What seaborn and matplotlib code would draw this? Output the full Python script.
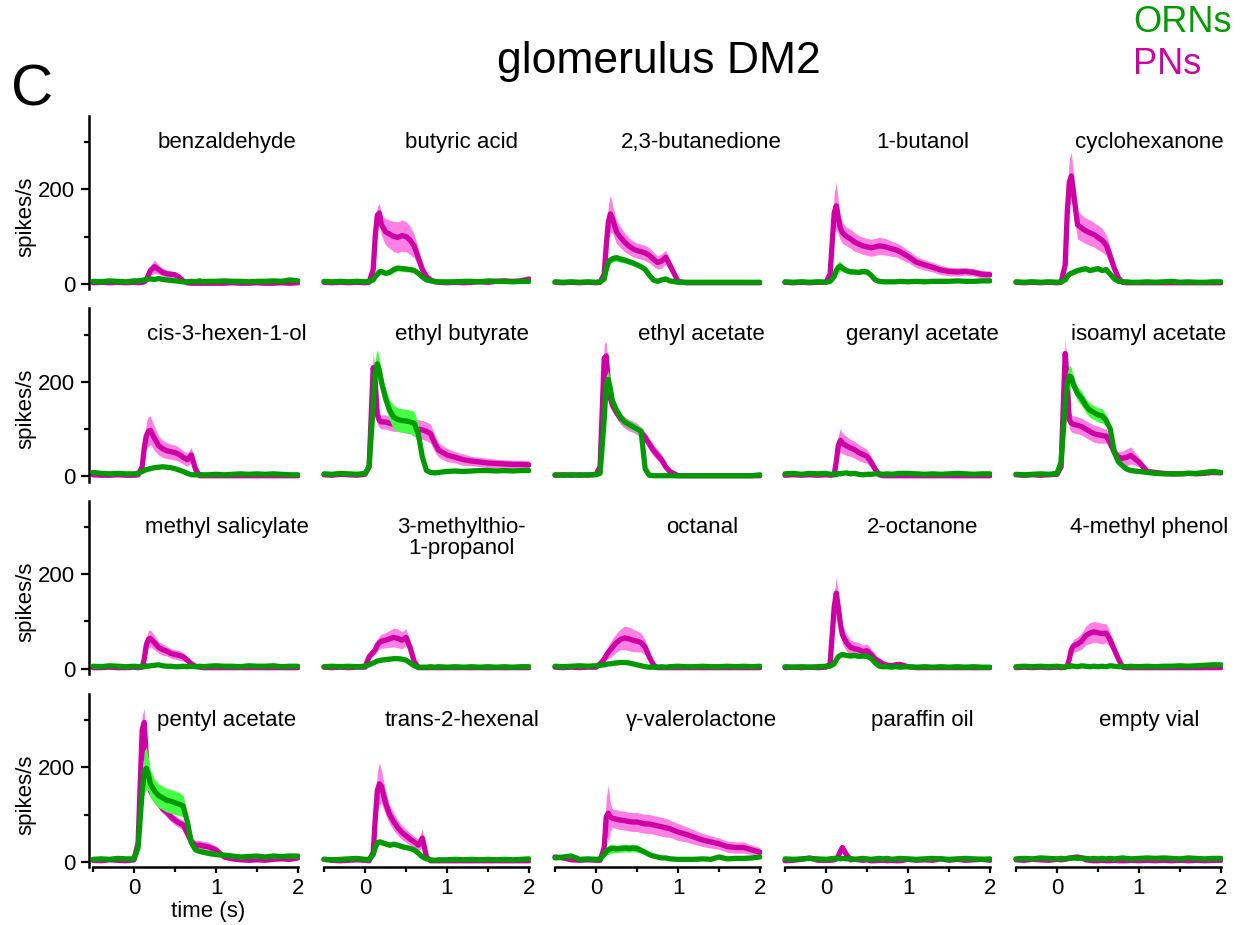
import numpy as np
import pandas as pd
import matplotlib
matplotlib.use("Agg")
import matplotlib.pyplot as plt
import seaborn as sns
from matplotlib.ticker import FixedLocator

# ---------------- data ----------------
time_s = [-0.5, -0.4, -0.3, -0.2, -0.1, 0.0,
          0.05, 0.1, 0.125, 0.15, 0.175, 0.2, 0.25, 0.3, 0.35, 0.4, 0.45, 0.5, 0.55, 0.6,
          0.65, 0.7, 0.75, 0.8, 0.85, 0.9,
          1.0, 1.1, 1.2, 1.3, 1.4, 1.5, 1.6, 1.7, 1.8, 1.9, 2.0]

odors = ["benzaldehyde", "butyric acid", "2,3-butanedione", "1-butanol", "cyclohexanone",
         "cis-3-hexen-1-ol", "ethyl butyrate", "ethyl acetate", "geranyl acetate", "isoamyl acetate",
         "methyl salicylate", "3-methylthio-\n1-propanol", "octanal", "2-octanone", "4-methyl phenol",
         "pentyl acetate", "trans-2-hexenal", "\u03b3-valerolactone", "paraffin oil", "empty vial"]

# benzaldehyde
pn_benzaldehyde = [2, 3, 2, 3, 2, 3, 2, 3, 4, 8, 18, 28, 36, 30, 24, 21, 20, 19, 14, 6, 2, 1, 1, 1, 1, 1, 1, 1, 2, 1, 1, 2, 1, 1, 2, 1, 2]
pn_benzaldehyde_err = [2, 2, 2, 2, 2, 2, 2, 2, 3, 5, 8, 10, 14, 10, 8, 7, 7, 6, 5, 3, 2, 2, 2, 2, 2, 2, 2, 2, 2, 2, 2, 2, 2, 2, 2, 2, 2]
orn_benzaldehyde = [5, 4, 6, 5, 4, 6, 6, 7, 8, 9, 10, 10, 9, 11, 9, 8, 7, 6, 5, 4, 4, 5, 4, 6, 4, 5, 5, 6, 5, 5, 4, 5, 5, 6, 5, 8, 6]
orn_benzaldehyde_err = [2, 2, 2, 2, 2, 2, 2, 2, 3, 3, 3, 3, 3, 3, 3, 3, 2, 2, 2, 2, 2, 2, 2, 2, 2, 2, 2, 2, 2, 2, 2, 2, 2, 2, 2, 2, 2]
# butyric acid
pn_butyric_acid = [3, 2, 3, 2, 3, 2, 3, 30, 100, 145, 150, 125, 110, 105, 100, 98, 102, 100, 92, 80, 55, 30, 15, 8, 4, 3, 2, 3, 2, 3, 4, 3, 5, 6, 5, 6, 10]
pn_butyric_acid_err = [2, 2, 2, 2, 2, 2, 2, 10, 15, 18, 20, 22, 28, 30, 32, 33, 33, 32, 30, 25, 18, 12, 8, 5, 3, 2, 2, 2, 2, 2, 3, 2, 3, 3, 3, 3, 5]
orn_butyric_acid = [5, 4, 5, 4, 5, 4, 5, 8, 15, 20, 25, 26, 22, 24, 30, 33, 32, 31, 30, 28, 22, 14, 8, 6, 5, 4, 4, 4, 5, 5, 4, 6, 5, 5, 4, 5, 5]
orn_butyric_acid_err = [2, 2, 2, 2, 2, 2, 2, 3, 4, 5, 5, 6, 5, 5, 6, 6, 6, 6, 5, 5, 4, 3, 2, 2, 2, 2, 2, 2, 2, 2, 2, 2, 2, 2, 2, 2, 2]
# 2,3-butanedione
pn_butanedione = [3, 2, 3, 2, 3, 2, 3, 20, 80, 130, 148, 138, 110, 98, 88, 80, 74, 70, 68, 65, 60, 52, 45, 48, 56, 40, 5, 2, 2, 2, 2, 2, 2, 2, 2, 2, 2]
pn_butanedione_err = [2, 2, 2, 2, 2, 2, 2, 8, 20, 35, 40, 30, 25, 22, 20, 18, 17, 16, 16, 16, 16, 15, 14, 15, 15, 12, 3, 2, 2, 2, 2, 2, 2, 2, 2, 2, 2]
orn_butanedione = [4, 3, 4, 3, 4, 3, 4, 10, 30, 45, 50, 53, 55, 52, 50, 47, 44, 40, 36, 30, 18, 8, 5, 8, 10, 6, 3, 3, 3, 3, 3, 3, 3, 3, 3, 3, 3]
orn_butanedione_err = [2, 2, 2, 2, 2, 2, 2, 3, 5, 6, 6, 7, 7, 7, 6, 6, 6, 5, 5, 5, 4, 3, 2, 2, 2, 2, 2, 2, 2, 2, 2, 2, 2, 2, 2, 2, 2]
# 1-butanol
pn_butanol = [3, 2, 3, 2, 3, 3, 20, 150, 165, 140, 118, 108, 100, 95, 88, 84, 80, 78, 76, 78, 80, 79, 77, 74, 72, 68, 58, 46, 40, 35, 29, 26, 25, 26, 24, 20, 19]
pn_butanol_err = [2, 2, 2, 2, 2, 2, 8, 40, 50, 35, 25, 22, 20, 20, 20, 18, 18, 18, 18, 18, 18, 18, 17, 16, 15, 15, 13, 12, 11, 10, 10, 9, 9, 8, 8, 8, 8]
orn_butanol = [4, 3, 4, 3, 4, 3, 5, 15, 28, 35, 37, 33, 28, 25, 25, 24, 26, 25, 18, 8, 5, 4, 4, 4, 4, 5, 4, 5, 4, 5, 5, 5, 6, 5, 5, 6, 6]
orn_butanol_err = [2, 2, 2, 2, 2, 2, 2, 5, 10, 12, 10, 8, 6, 5, 5, 5, 5, 5, 4, 3, 2, 2, 2, 2, 2, 2, 2, 2, 2, 2, 2, 2, 2, 2, 2, 2, 2]
# cyclohexanone
pn_cyclohexanone = [3, 2, 3, 2, 3, 2, 3, 40, 150, 215, 228, 195, 125, 118, 112, 108, 104, 98, 92, 82, 58, 32, 12, 3, 2, 2, 2, 2, 2, 2, 2, 2, 2, 2, 2, 2, 2]
pn_cyclohexanone_err = [2, 2, 2, 2, 2, 2, 2, 15, 40, 50, 50, 40, 30, 28, 27, 27, 26, 26, 25, 22, 18, 12, 6, 2, 2, 2, 2, 2, 2, 2, 2, 2, 2, 2, 2, 2, 2]
orn_cyclohexanone = [4, 3, 4, 3, 4, 3, 4, 8, 15, 20, 22, 24, 28, 30, 32, 28, 30, 32, 28, 30, 20, 10, 5, 4, 4, 3, 3, 4, 3, 4, 5, 3, 4, 3, 3, 4, 4]
orn_cyclohexanone_err = [2, 2, 2, 2, 2, 2, 2, 3, 4, 5, 5, 5, 5, 5, 5, 5, 5, 5, 5, 5, 4, 3, 2, 2, 2, 2, 2, 2, 2, 2, 2, 2, 2, 2, 2, 2, 2]
# cis-3-hexen-1-ol
pn_hexenol = [3, 2, 2, 3, 2, 2, 3, 20, 60, 85, 95, 97, 80, 65, 58, 54, 52, 50, 46, 40, 35, 45, 15, 1, 1, 1, 1, 1, 1, 1, 1, 1, 1, 1, 1, 1, 1]
pn_hexenol_err = [2, 2, 2, 2, 2, 2, 2, 8, 20, 28, 32, 30, 25, 20, 18, 17, 16, 16, 15, 14, 14, 16, 8, 1, 1, 1, 1, 1, 1, 1, 1, 1, 1, 1, 1, 1, 1]
orn_hexenol = [8, 6, 5, 6, 5, 5, 6, 10, 12, 14, 15, 16, 18, 19, 20, 19, 18, 16, 13, 10, 6, 3, 3, 3, 3, 3, 4, 3, 4, 5, 4, 5, 4, 5, 4, 3, 3]
orn_hexenol_err = [2, 2, 2, 2, 2, 2, 2, 3, 3, 3, 3, 3, 3, 3, 3, 3, 3, 3, 3, 3, 2, 2, 2, 2, 2, 2, 2, 2, 2, 2, 2, 2, 2, 2, 2, 2, 2]
# ethyl butyrate
pn_ethyl_butyrate = [3, 2, 4, 3, 2, 4, 20, 230, 200, 130, 118, 115, 115, 112, 110, 110, 108, 106, 105, 102, 100, 98, 95, 90, 70, 55, 45, 40, 35, 32, 30, 28, 27, 26, 25, 25, 24]
pn_ethyl_butyrate_err = [2, 2, 2, 2, 2, 2, 5, 30, 30, 20, 15, 15, 15, 15, 15, 15, 15, 15, 15, 18, 20, 20, 20, 20, 18, 15, 14, 12, 12, 10, 10, 10, 9, 9, 9, 9, 9]
orn_ethyl_butyrate = [5, 4, 6, 5, 4, 6, 20, 150, 220, 238, 225, 200, 165, 140, 125, 120, 118, 117, 115, 112, 90, 40, 12, 8, 7, 8, 10, 11, 10, 11, 12, 12, 11, 12, 11, 12, 12]
orn_ethyl_butyrate_err = [2, 2, 2, 2, 2, 2, 5, 20, 30, 30, 25, 20, 20, 22, 25, 25, 25, 25, 25, 25, 20, 10, 4, 3, 3, 3, 3, 3, 3, 3, 3, 3, 3, 3, 3, 3, 3]
# ethyl acetate
pn_ethyl_acetate = [2, 3, 2, 3, 2, 4, 20, 250, 255, 200, 165, 150, 135, 122, 114, 108, 105, 100, 92, 82, 68, 55, 45, 35, 20, 10, 1, 1, 1, 1, 1, 1, 1, 1, 1, 1, 1]
pn_ethyl_acetate_err = [2, 2, 2, 2, 2, 2, 5, 30, 30, 25, 15, 12, 12, 12, 12, 12, 12, 12, 12, 12, 12, 12, 12, 10, 8, 5, 1, 1, 1, 1, 1, 1, 1, 1, 1, 1, 1]
orn_ethyl_acetate = [3, 2, 3, 2, 3, 3, 6, 120, 195, 205, 185, 160, 140, 125, 115, 110, 105, 100, 95, 15, 2, 1, 1, 1, 1, 1, 1, 1, 1, 1, 1, 1, 1, 1, 1, 1, 3]
orn_ethyl_acetate_err = [2, 2, 2, 2, 2, 2, 3, 15, 18, 18, 15, 12, 10, 10, 8, 8, 8, 8, 8, 5, 2, 1, 1, 1, 1, 1, 1, 1, 1, 1, 1, 1, 1, 1, 1, 1, 1]
# geranyl acetate
pn_geranyl_acetate = [2, 3, 2, 3, 2, 3, 2, 3, 30, 65, 76, 70, 64, 60, 56, 50, 46, 42, 30, 15, 3, 1, 1, 1, 1, 1, 1, 1, 1, 1, 1, 1, 1, 1, 1, 1, 1]
pn_geranyl_acetate_err = [2, 2, 2, 2, 2, 2, 2, 2, 10, 20, 25, 22, 20, 18, 18, 17, 16, 15, 12, 8, 3, 1, 1, 1, 1, 1, 1, 1, 1, 1, 1, 1, 1, 1, 1, 1, 1]
orn_geranyl_acetate = [5, 6, 4, 6, 5, 6, 4, 5, 3, 6, 5, 6, 7, 5, 6, 4, 3, 4, 4, 5, 5, 4, 5, 4, 5, 6, 6, 5, 4, 5, 4, 5, 6, 5, 4, 5, 5]
orn_geranyl_acetate_err = [2, 2, 2, 2, 2, 2, 2, 2, 2, 2, 2, 2, 2, 2, 2, 2, 2, 2, 2, 2, 2, 2, 2, 2, 2, 2, 2, 2, 2, 2, 2, 2, 2, 2, 2, 2, 2]
# isoamyl acetate
pn_isoamyl_acetate = [3, 2, 3, 2, 3, 4, 20, 260, 200, 120, 112, 110, 108, 105, 100, 95, 90, 88, 86, 85, 70, 50, 40, 38, 40, 44, 30, 10, 8, 6, 5, 5, 6, 5, 6, 8, 7]
pn_isoamyl_acetate_err = [2, 2, 2, 2, 2, 2, 5, 30, 30, 20, 18, 18, 18, 18, 18, 18, 18, 18, 16, 15, 14, 12, 12, 15, 18, 18, 10, 5, 4, 3, 3, 3, 3, 3, 3, 3, 3]
orn_isoamyl_acetate = [4, 3, 4, 5, 4, 6, 30, 150, 195, 212, 210, 195, 175, 165, 150, 140, 135, 130, 128, 118, 100, 50, 30, 22, 15, 12, 10, 8, 6, 5, 5, 5, 6, 6, 8, 10, 8]
orn_isoamyl_acetate_err = [2, 2, 2, 2, 2, 2, 5, 20, 25, 25, 20, 15, 15, 15, 15, 15, 15, 15, 15, 12, 10, 8, 5, 4, 3, 3, 3, 3, 3, 3, 3, 3, 3, 3, 3, 3, 3]
# methyl salicylate
pn_methyl_salicylate = [2, 2, 3, 2, 2, 3, 2, 3, 20, 50, 62, 64, 55, 45, 40, 37, 32, 30, 28, 25, 18, 10, 5, 3, 2, 2, 2, 2, 2, 2, 2, 2, 2, 2, 2, 2, 2]
pn_methyl_salicylate_err = [2, 2, 2, 2, 2, 2, 2, 2, 8, 15, 18, 18, 15, 12, 12, 10, 10, 10, 10, 9, 7, 5, 3, 2, 2, 2, 2, 2, 2, 2, 2, 2, 2, 2, 2, 2, 2]
orn_methyl_salicylate = [5, 4, 6, 5, 4, 5, 4, 5, 4, 6, 5, 6, 7, 8, 6, 5, 5, 4, 4, 5, 4, 5, 4, 5, 4, 5, 6, 5, 5, 4, 6, 5, 5, 6, 4, 5, 5]
orn_methyl_salicylate_err = [2, 2, 2, 2, 2, 2, 2, 2, 2, 2, 2, 2, 2, 2, 2, 2, 2, 2, 2, 2, 2, 2, 2, 2, 2, 2, 2, 2, 2, 2, 2, 2, 2, 2, 2, 2, 2]
# 3-methylthio-1-propanol
pn_methylthio_propanol = [3, 2, 3, 2, 3, 3, 25, 35, 40, 50, 55, 58, 60, 63, 66, 64, 60, 66, 45, 15, 2, 2, 2, 2, 2, 2, 2, 2, 2, 2, 2, 2, 2, 2, 2, 2, 2]
pn_methylthio_propanol_err = [2, 2, 2, 2, 2, 2, 5, 8, 10, 12, 14, 15, 16, 18, 20, 20, 18, 18, 14, 6, 2, 2, 2, 2, 2, 2, 2, 2, 2, 2, 2, 2, 2, 2, 2, 2, 2]
orn_methylthio_propanol = [4, 5, 4, 5, 4, 5, 8, 12, 14, 16, 17, 18, 19, 20, 21, 21, 20, 18, 12, 6, 3, 3, 3, 4, 3, 4, 3, 4, 3, 4, 3, 4, 3, 4, 3, 4, 4]
orn_methylthio_propanol_err = [2, 2, 2, 2, 2, 2, 2, 3, 3, 3, 3, 3, 3, 3, 3, 3, 3, 3, 3, 2, 2, 2, 2, 2, 2, 2, 2, 2, 2, 2, 2, 2, 2, 2, 2, 2, 2]
# octanal
pn_octanal = [3, 2, 3, 2, 3, 3, 10, 20, 28, 35, 40, 45, 55, 62, 65, 63, 60, 58, 55, 45, 25, 8, 2, 2, 2, 2, 2, 2, 2, 2, 2, 2, 2, 2, 2, 2, 2]
pn_octanal_err = [2, 2, 2, 2, 2, 2, 3, 6, 10, 14, 16, 18, 20, 22, 25, 25, 24, 22, 20, 16, 10, 4, 2, 2, 2, 2, 2, 2, 2, 2, 2, 2, 2, 2, 2, 2, 2]
orn_octanal = [5, 4, 5, 6, 5, 6, 7, 8, 9, 10, 10, 11, 12, 13, 13, 12, 10, 8, 6, 4, 3, 3, 3, 4, 3, 4, 5, 4, 4, 5, 4, 4, 5, 4, 5, 4, 5]
orn_octanal_err = [2, 2, 2, 2, 2, 2, 2, 2, 2, 3, 3, 3, 3, 3, 3, 3, 3, 2, 2, 2, 2, 2, 2, 2, 2, 2, 2, 2, 2, 2, 2, 2, 2, 2, 2, 2, 2]
# 2-octanone
pn_octanone = [2, 3, 2, 3, 2, 3, 10, 130, 160, 130, 95, 72, 55, 45, 42, 40, 36, 38, 30, 20, 15, 10, 7, 6, 8, 9, 4, 2, 2, 2, 2, 2, 2, 2, 2, 2, 2]
pn_octanone_err = [2, 2, 2, 2, 2, 2, 3, 25, 35, 30, 25, 20, 18, 16, 15, 15, 14, 14, 12, 10, 8, 6, 4, 4, 5, 5, 2, 2, 2, 2, 2, 2, 2, 2, 2, 2, 2]
orn_octanone = [4, 3, 4, 3, 4, 5, 5, 10, 18, 25, 28, 30, 28, 27, 28, 26, 27, 26, 22, 12, 5, 4, 4, 3, 4, 3, 4, 3, 4, 3, 4, 3, 4, 3, 4, 3, 3]
orn_octanone_err = [2, 2, 2, 2, 2, 2, 2, 3, 4, 5, 5, 5, 5, 5, 5, 5, 5, 5, 4, 3, 2, 2, 2, 2, 2, 2, 2, 2, 2, 2, 2, 2, 2, 2, 2, 2, 2]
# 4-methyl phenol
pn_methyl_phenol = [2, 3, 2, 3, 2, 3, 2, 3, 5, 20, 40, 48, 52, 58, 70, 75, 78, 76, 74, 75, 60, 40, 20, 3, 2, 2, 2, 2, 2, 2, 2, 2, 2, 2, 2, 2, 2]
pn_methyl_phenol_err = [2, 2, 2, 2, 2, 2, 2, 2, 3, 8, 12, 14, 15, 17, 20, 22, 22, 22, 22, 20, 16, 10, 6, 2, 2, 2, 2, 2, 2, 2, 2, 2, 2, 2, 2, 2, 2]
orn_methyl_phenol = [4, 5, 4, 5, 4, 5, 4, 3, 5, 4, 6, 5, 4, 6, 5, 4, 5, 4, 5, 4, 6, 5, 4, 5, 4, 5, 4, 5, 4, 5, 5, 6, 5, 6, 7, 8, 8]
orn_methyl_phenol_err = [2, 2, 2, 2, 2, 2, 2, 2, 2, 2, 2, 2, 2, 2, 2, 2, 2, 2, 2, 2, 2, 2, 2, 2, 2, 2, 2, 2, 2, 2, 2, 2, 2, 2, 2, 2, 2]
# pentyl acetate
pn_pentyl_acetate = [3, 2, 4, 3, 2, 4, 40, 280, 295, 220, 165, 150, 135, 125, 112, 105, 95, 88, 82, 78, 60, 42, 35, 35, 33, 32, 25, 10, 6, 4, 3, 4, 3, 5, 6, 5, 8]
pn_pentyl_acetate_err = [2, 2, 2, 2, 2, 2, 10, 30, 30, 25, 15, 12, 12, 12, 10, 10, 10, 10, 10, 10, 10, 10, 10, 10, 10, 10, 8, 5, 3, 3, 3, 3, 3, 3, 3, 3, 3]
orn_pentyl_acetate = [5, 6, 5, 7, 6, 6, 30, 150, 190, 198, 185, 165, 150, 140, 135, 130, 128, 125, 122, 118, 85, 40, 25, 22, 20, 18, 15, 14, 12, 10, 11, 12, 10, 12, 11, 12, 12]
orn_pentyl_acetate_err = [2, 2, 2, 2, 2, 2, 8, 30, 45, 45, 35, 30, 25, 25, 25, 25, 25, 25, 25, 22, 15, 8, 6, 5, 5, 5, 4, 4, 4, 4, 4, 4, 4, 4, 4, 4, 4]
# trans-2-hexenal
pn_hexenal = [5, 3, 2, 3, 4, 3, 2, 20, 90, 150, 165, 160, 125, 100, 85, 72, 62, 55, 48, 42, 35, 50, 10, 2, 2, 2, 2, 2, 2, 2, 2, 2, 2, 2, 2, 2, 2]
pn_hexenal_err = [3, 2, 2, 2, 2, 2, 2, 10, 30, 40, 45, 35, 25, 20, 18, 16, 15, 14, 13, 12, 12, 20, 5, 2, 2, 2, 2, 2, 2, 2, 2, 2, 2, 2, 2, 2, 2]
orn_hexenal = [5, 4, 5, 6, 7, 5, 5, 15, 30, 40, 42, 41, 38, 35, 37, 35, 32, 30, 28, 25, 18, 10, 6, 4, 3, 4, 4, 5, 4, 5, 4, 5, 4, 5, 4, 5, 6]
orn_hexenal_err = [2, 2, 2, 2, 2, 2, 2, 3, 5, 6, 6, 6, 5, 5, 5, 5, 5, 4, 4, 4, 3, 2, 2, 2, 2, 2, 2, 2, 2, 2, 2, 2, 2, 2, 2, 2, 2]
# gamma-valerolactone
pn_valerolactone = [10, 8, 4, 3, 4, 3, 3, 30, 95, 103, 95, 92, 90, 88, 87, 85, 84, 84, 82, 80, 80, 78, 76, 74, 72, 70, 63, 58, 52, 46, 42, 38, 32, 30, 30, 25, 20]
pn_valerolactone_err = [3, 2, 2, 2, 2, 2, 3, 15, 40, 60, 30, 20, 20, 20, 20, 20, 20, 20, 20, 20, 20, 20, 20, 20, 20, 18, 18, 16, 15, 14, 13, 12, 12, 12, 12, 10, 10]
orn_valerolactone = [8, 10, 12, 5, 6, 5, 6, 15, 22, 25, 27, 28, 27, 28, 29, 28, 29, 28, 24, 20, 15, 12, 10, 8, 8, 6, 5, 5, 5, 6, 5, 10, 6, 7, 7, 8, 10]
orn_valerolactone_err = [2, 2, 2, 2, 2, 2, 2, 5, 8, 10, 10, 9, 8, 8, 8, 8, 8, 8, 6, 5, 4, 3, 3, 2, 2, 2, 2, 2, 2, 2, 2, 2, 2, 2, 2, 2, 2]
# paraffin oil
pn_paraffin_oil = [2, 3, 5, 8, 3, 3, 3, 4, 6, 12, 22, 30, 15, 4, 5, 4, 3, 4, 2, 2, 3, 3, 2, 3, 2, 2, 5, 3, 4, 3, 6, 3, 5, 3, 4, 5, 3]
pn_paraffin_oil_err = [2, 2, 2, 3, 2, 2, 2, 2, 3, 4, 6, 8, 5, 2, 2, 2, 2, 2, 2, 2, 2, 2, 2, 2, 2, 2, 2, 2, 2, 2, 2, 2, 2, 2, 2, 2, 2]
orn_paraffin_oil = [6, 5, 6, 7, 6, 5, 6, 7, 6, 7, 6, 7, 6, 7, 5, 6, 7, 6, 5, 6, 7, 6, 7, 5, 6, 7, 6, 5, 6, 7, 6, 5, 6, 7, 6, 5, 6]
orn_paraffin_oil_err = [2, 2, 2, 2, 2, 2, 2, 2, 2, 2, 2, 2, 2, 2, 2, 2, 2, 2, 2, 2, 2, 2, 2, 2, 2, 2, 2, 2, 2, 2, 2, 2, 2, 2, 2, 2, 2]
# empty vial
pn_empty_vial = [4, 3, 5, 4, 3, 5, 4, 5, 6, 7, 8, 9, 10, 8, 4, 3, 2, 2, 3, 2, 2, 3, 2, 2, 2, 3, 2, 3, 2, 3, 2, 3, 2, 3, 2, 3, 3]
pn_empty_vial_err = [2, 2, 2, 2, 2, 2, 2, 2, 2, 2, 3, 3, 3, 2, 2, 2, 2, 2, 2, 2, 2, 2, 2, 2, 2, 2, 2, 2, 2, 2, 2, 2, 2, 2, 2, 2, 2]
orn_empty_vial = [6, 7, 6, 8, 7, 6, 7, 6, 7, 8, 7, 8, 7, 8, 7, 6, 7, 6, 7, 6, 7, 6, 7, 8, 7, 6, 7, 8, 7, 8, 7, 6, 8, 7, 6, 7, 7]
orn_empty_vial_err = [2, 2, 2, 2, 2, 2, 2, 2, 2, 2, 2, 2, 2, 2, 2, 2, 2, 2, 2, 2, 2, 2, 2, 2, 2, 2, 2, 2, 2, 2, 2, 2, 2, 2, 2, 2, 2]

pn_series = [pn_benzaldehyde, pn_butyric_acid, pn_butanedione, pn_butanol, pn_cyclohexanone,
             pn_hexenol, pn_ethyl_butyrate, pn_ethyl_acetate, pn_geranyl_acetate, pn_isoamyl_acetate,
             pn_methyl_salicylate, pn_methylthio_propanol, pn_octanal, pn_octanone, pn_methyl_phenol,
             pn_pentyl_acetate, pn_hexenal, pn_valerolactone, pn_paraffin_oil, pn_empty_vial]
pn_errors = [pn_benzaldehyde_err, pn_butyric_acid_err, pn_butanedione_err, pn_butanol_err, pn_cyclohexanone_err,
             pn_hexenol_err, pn_ethyl_butyrate_err, pn_ethyl_acetate_err, pn_geranyl_acetate_err, pn_isoamyl_acetate_err,
             pn_methyl_salicylate_err, pn_methylthio_propanol_err, pn_octanal_err, pn_octanone_err, pn_methyl_phenol_err,
             pn_pentyl_acetate_err, pn_hexenal_err, pn_valerolactone_err, pn_paraffin_oil_err, pn_empty_vial_err]
orn_series = [orn_benzaldehyde, orn_butyric_acid, orn_butanedione, orn_butanol, orn_cyclohexanone,
              orn_hexenol, orn_ethyl_butyrate, orn_ethyl_acetate, orn_geranyl_acetate, orn_isoamyl_acetate,
              orn_methyl_salicylate, orn_methylthio_propanol, orn_octanal, orn_octanone, orn_methyl_phenol,
              orn_pentyl_acetate, orn_hexenal, orn_valerolactone, orn_paraffin_oil, orn_empty_vial]
orn_errors = [orn_benzaldehyde_err, orn_butyric_acid_err, orn_butanedione_err, orn_butanol_err, orn_cyclohexanone_err,
              orn_hexenol_err, orn_ethyl_butyrate_err, orn_ethyl_acetate_err, orn_geranyl_acetate_err, orn_isoamyl_acetate_err,
              orn_methyl_salicylate_err, orn_methylthio_propanol_err, orn_octanal_err, orn_octanone_err, orn_methyl_phenol_err,
              orn_pentyl_acetate_err, orn_hexenal_err, orn_valerolactone_err, orn_paraffin_oil_err, orn_empty_vial_err]

# ---------------- long-form table ----------------
rows = []
for i, od in enumerate(odors):
    for cell, vals, errs in (("PNs", pn_series[i], pn_errors[i]), ("ORNs", orn_series[i], orn_errors[i])):
        for t, v, e in zip(time_s, vals, errs):
            rows.append((od, cell, t, v, e))
df = pd.DataFrame(rows, columns=["odor", "cell", "time", "rate", "err"])

# ---------------- style ----------------
sns.set_theme(style="white")
plt.rcParams["font.family"] = ["Liberation Sans", "DejaVu Sans"]
plt.rcParams["axes.linewidth"] = 1.8
for key in ("text.color", "axes.labelcolor", "xtick.color", "ytick.color", "axes.edgecolor"):
    plt.rcParams[key] = "black"

PN_LINE = "#CC00A3"
PN_BAND = "#FF80E4"
ORN_LINE = "#009A00"
ORN_BAND = "#44FF44"

W, H = 1242, 925
fig = plt.figure(figsize=(W / 100, H / 100), dpi=100)

XMIN, XMAX = -0.55, 2.02
YMIN, YMAX = -12, 356
PX_PER_S = 82.0
PX_PER_U = 0.472
col_x0 = [134, 365, 596, 826, 1057]      # pixel x of t=0
row_y0 = [283.7, 476.2, 668.6, 861.7]     # pixel y of rate=0
label_dx = [1.13, 1.18, 1.29, 1.18, 1.12]  # label centre (s)

ax_w = (XMAX - XMIN) * PX_PER_S
ax_h = (YMAX - YMIN) * PX_PER_U

for i, od in enumerate(odors):
    r, c = divmod(i, 5)
    left_px = col_x0[c] + XMIN * PX_PER_S
    top_px = row_y0[r] - YMAX * PX_PER_U
    ax = fig.add_axes([left_px / W, 1 - (top_px + ax_h) / H, ax_w / W, ax_h / H])
    sub = df[df["odor"] == od]
    pn = sub[sub["cell"] == "PNs"]
    orn = sub[sub["cell"] == "ORNs"]
    ax.fill_between(pn["time"], pn["rate"] - pn["err"], pn["rate"] + pn["err"],
                    color=PN_BAND, linewidth=0, zorder=1)
    sns.lineplot(data=pn, x="time", y="rate", ax=ax, color=PN_LINE, linewidth=3.8,
                 zorder=2, legend=False, errorbar=None)
    ax.fill_between(orn["time"], orn["rate"] - orn["err"], orn["rate"] + orn["err"],
                    color=ORN_BAND, linewidth=0, zorder=3)
    sns.lineplot(data=orn, x="time", y="rate", ax=ax, color=ORN_LINE, linewidth=3.8,
                 zorder=4, legend=False, errorbar=None)

    ax.set_xlim(XMIN, XMAX)
    ax.set_ylim(YMIN, YMAX)
    ax.set_xlabel("")
    ax.set_ylabel("")
    ax.patch.set_alpha(0)
    for s in ("top", "right"):
        ax.spines[s].set_visible(False)

    ax.text(label_dx[c], 322, od, ha="center", va="top", fontsize=16, color="black",
            linespacing=1.05, zorder=6)

    if c == 0:
        ax.spines["left"].set_visible(True)
        ax.yaxis.set_major_locator(FixedLocator([0, 200]))
        ax.yaxis.set_minor_locator(FixedLocator([100, 300]))
        ax.tick_params(axis="y", which="major", direction="out", length=6, width=1.6,
                       labelsize=16, pad=4, left=True)
        ax.tick_params(axis="y", which="minor", direction="out", length=3.5, width=1.6, left=True)
    else:
        ax.spines["left"].set_visible(False)
        ax.set_yticks([])
    if r == 3:
        ax.spines["bottom"].set_visible(True)
        ax.spines["bottom"].set_bounds(-0.5, 2.0)
        ax.xaxis.set_major_locator(FixedLocator([0, 1, 2]))
        ax.xaxis.set_minor_locator(FixedLocator([-0.5, 0.5, 1.5]))
        ax.tick_params(axis="x", which="major", direction="out", length=4.5, width=1.6,
                       labelsize=16, pad=3, bottom=True)
        ax.tick_params(axis="x", which="minor", direction="out", length=3.5, width=1.6, bottom=True)
    else:
        ax.spines["bottom"].set_visible(False)
        ax.set_xticks([])

# y labels
for r in range(4):
    fig.text(26 / W, 1 - (row_y0[r] - 67) / H, "spikes/s", rotation=90, ha="center",
             va="center", fontsize=16)
fig.text(208 / W, 1 - 911 / H, "time (s)", ha="center", va="center", fontsize=16)

fig.text(659 / W, 1 - 62 / H, "glomerulus DM2", ha="center", va="center", fontsize=32)
fig.text(32 / W, 1 - 90 / H, "C", ha="center", va="center", fontsize=42)
fig.text(1133 / W, 1 - 22 / H, "ORNs", ha="left", va="center", fontsize=26, color="#009900")
fig.text(1133 / W, 1 - 65 / H, "PNs", ha="left", va="center", fontsize=26, color="#CC00A0")

fig.savefig("out.png", dpi=100, facecolor="white")
